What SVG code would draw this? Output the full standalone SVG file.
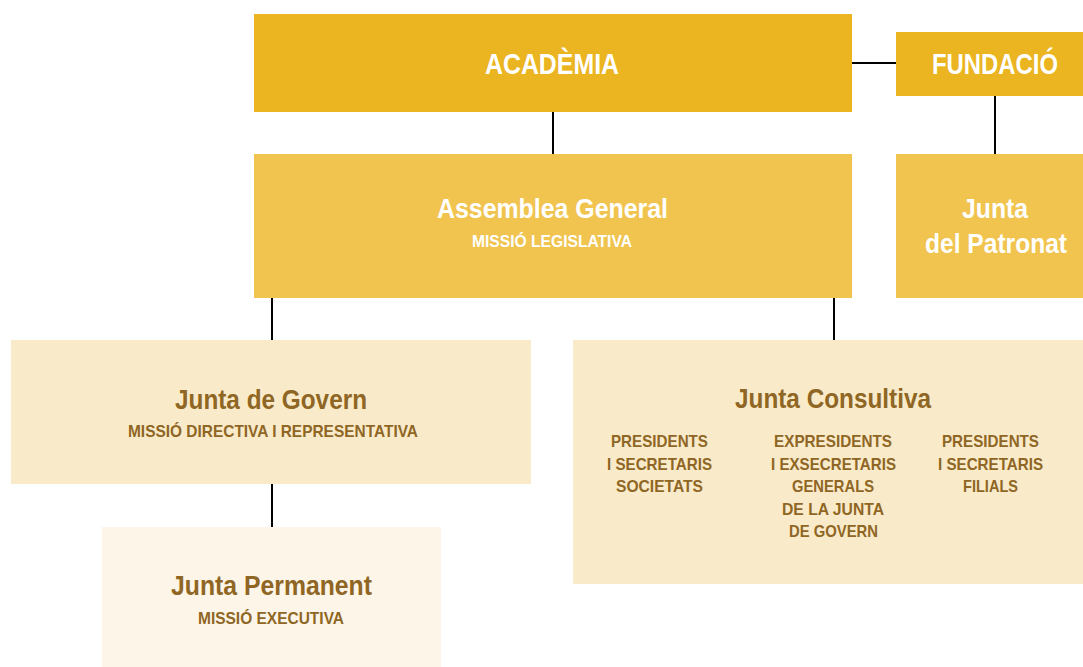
<svg xmlns="http://www.w3.org/2000/svg" width="1083" height="667" viewBox="0 0 1083 667">
<style>
.t{font-family:"Liberation Sans",Arial,sans-serif;font-weight:bold;text-anchor:middle}
.w{fill:#ffffff}
.b{fill:#8f6624}
.xl{font-size:30px}
.big{font-size:27.5px}
.sm{font-size:17px}
.xs{font-size:17px}
.c1{fill:#ebb421}
.c2{fill:#f0c44f}
.c3{fill:#f9ebca}
.c4{fill:#fdf5e7}
.ln{stroke:#000;stroke-width:2;fill:none}
</style>
<rect width="1083" height="667" fill="#fff"/>
<g id="connectors">
<line class="ln" x1="852" y1="63" x2="896" y2="63"/>
<line class="ln" x1="553" y1="112" x2="553" y2="154"/>
<line class="ln" x1="995" y1="96" x2="995" y2="154"/>
<line class="ln" x1="272" y1="298" x2="272" y2="340"/>
<line class="ln" x1="834" y1="298" x2="834" y2="340"/>
<line class="ln" x1="272" y1="484" x2="272" y2="527"/>
</g>
<g id="academia">
<rect class="c1" x="254" y="14" width="598" height="98"/>
<text class="t w xl" x="552" y="74" textLength="134" lengthAdjust="spacingAndGlyphs">ACADÈMIA</text>
</g>
<g id="fundacio">
<rect class="c1" x="896" y="32" width="187" height="64"/>
<text class="t w xl" x="995" y="74" textLength="126" lengthAdjust="spacingAndGlyphs">FUNDACIÓ</text>
</g>
<g id="assemblea">
<rect class="c2" x="254" y="154" width="598" height="144"/>
<text class="t w big" x="552.5" y="218" textLength="231" lengthAdjust="spacingAndGlyphs">Assemblea General</text>
<text class="t w sm" x="552" y="247" textLength="160" lengthAdjust="spacingAndGlyphs">MISSIÓ LEGISLATIVA</text>
</g>
<g id="patronat">
<rect class="c2" x="896" y="154" width="187" height="144"/>
<text class="t w big" x="995" y="218" textLength="66" lengthAdjust="spacingAndGlyphs">Junta</text>
<text class="t w big" x="996" y="253" textLength="142" lengthAdjust="spacingAndGlyphs">del Patronat</text>
</g>
<g id="govern">
<rect class="c3" x="11" y="340" width="520" height="144"/>
<text class="t b big" x="271" y="409" textLength="192" lengthAdjust="spacingAndGlyphs">Junta de Govern</text>
<text class="t b sm" x="273" y="437" textLength="290" lengthAdjust="spacingAndGlyphs">MISSIÓ DIRECTIVA I REPRESENTATIVA</text>
</g>
<g id="consultiva">
<rect class="c3" x="573" y="340" width="510" height="244"/>
<text class="t b big" x="833" y="408" textLength="196" lengthAdjust="spacingAndGlyphs">Junta Consultiva</text>
<text class="t b xs" x="659.5" y="447" textLength="97" lengthAdjust="spacingAndGlyphs">PRESIDENTS</text>
<text class="t b xs" x="659.5" y="469.5" textLength="105" lengthAdjust="spacingAndGlyphs">I SECRETARIS</text>
<text class="t b xs" x="659.5" y="492" textLength="87" lengthAdjust="spacingAndGlyphs">SOCIETATS</text>
<text class="t b xs" x="833" y="447" textLength="118" lengthAdjust="spacingAndGlyphs">EXPRESIDENTS</text>
<text class="t b xs" x="833.5" y="469.5" textLength="125" lengthAdjust="spacingAndGlyphs">I EXSECRETARIS</text>
<text class="t b xs" x="833" y="492" textLength="82" lengthAdjust="spacingAndGlyphs">GENERALS</text>
<text class="t b xs" x="833" y="514.5" textLength="102" lengthAdjust="spacingAndGlyphs">DE LA JUNTA</text>
<text class="t b xs" x="833.5" y="537" textLength="89" lengthAdjust="spacingAndGlyphs">DE GOVERN</text>
<text class="t b xs" x="990.5" y="447" textLength="97" lengthAdjust="spacingAndGlyphs">PRESIDENTS</text>
<text class="t b xs" x="990.5" y="469.5" textLength="105" lengthAdjust="spacingAndGlyphs">I SECRETARIS</text>
<text class="t b xs" x="990.5" y="492" textLength="55" lengthAdjust="spacingAndGlyphs">FILIALS</text>
</g>
<g id="permanent">
<rect class="c4" x="102" y="527" width="339" height="140"/>
<text class="t b big" x="271.5" y="595" textLength="201" lengthAdjust="spacingAndGlyphs">Junta Permanent</text>
<text class="t b sm" x="271" y="624" textLength="146" lengthAdjust="spacingAndGlyphs">MISSIÓ EXECUTIVA</text>
</g>
</svg>
